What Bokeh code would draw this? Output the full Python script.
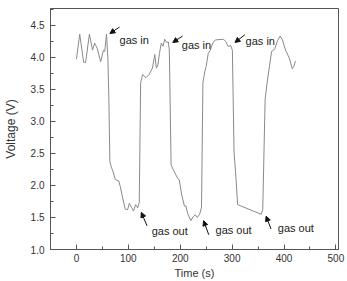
from bokeh.plotting import figure
from bokeh.models import (FixedTicker, Label, Arrow, NormalHead, Range1d,
                          PrintfTickFormatter)
from bokeh.embed import file_html
from bokeh.resources import INLINE

time_s = [0, 6.3, 13.9, 17.7, 25, 31, 35, 40, 46.7, 52, 54.5, 58, 60.6, 62.5, 64.4,
          67, 70.7, 75, 81.4, 84.6, 87.8, 94, 98.5, 102, 106.7, 110, 114, 118, 121,
          123.7, 127.5, 134, 140, 146.5, 151, 154, 157, 160, 163.5, 166.7, 170, 174,
          177, 179, 182.4, 187, 195, 198, 203, 208, 211, 214, 220.5, 225, 229, 233,
          237.5, 241, 243.7, 247.5, 250, 254, 258, 262.6, 267.7, 283.5, 288, 293,
          296.7, 300.5, 303.7, 307.5, 310.6, 356, 359, 363.6, 367.4, 372, 376, 380,
          382.6, 387.6, 392.7, 397, 403, 410, 416, 419, 422]
voltage = [3.97, 4.36, 3.92, 3.92, 4.36, 4.11, 4.22, 4.14, 3.93, 4.11, 4.09, 4.36, 3.97,
           3.34, 2.37, 2.29, 2.21, 2.09, 2.07, 1.98, 1.85, 1.63, 1.62, 1.72, 1.65, 1.60,
           1.70, 1.65, 1.73, 3.60, 3.73, 3.68, 3.73, 3.83, 4.04, 3.83, 3.88, 4.06, 4.22,
           4.17, 4.28, 4.23, 4.24, 4.11, 2.32, 2.24, 2.11, 2.09, 1.85, 1.68, 1.68, 1.57,
           1.45, 1.51, 1.54, 1.50, 1.55, 1.66, 3.60, 3.78, 3.86, 4.06, 4.11, 4.22, 4.27,
           4.28, 4.24, 4.16, 4.19, 4.11, 2.52, 2.11, 1.70, 1.55, 1.62, 3.34, 3.60, 3.86,
           4.09, 4.11, 4.14, 4.26, 4.33, 4.27, 4.11, 3.99, 3.82, 3.86, 3.94]

x_ticks = [0, 100, 200, 300, 400, 500]
y_ticks = [1.0, 1.5, 2.0, 2.5, 3.0, 3.5, 4.0, 4.5]

note_texts = ["gas in", "gas in", "gas in", "gas out", "gas out", "gas out"]
note_x = [83, 203, 326, 145, 268, 388]
note_y = [4.27, 4.19, 4.26, 1.29, 1.30, 1.33]
arrow_x0 = [83, 204.5, 324.5, 136, 255, 375]
arrow_y0 = [4.47, 4.33, 4.35, 1.37, 1.23, 1.32]
arrow_x1 = [64.4, 185.6, 305.5, 125, 245, 365.5]
arrow_y1 = [4.37, 4.23, 4.23, 1.58, 1.45, 1.52]

FONT = "Liberation Sans"

p = figure(width=347, height=281, output_backend="svg", toolbar_location=None,
           x_range=Range1d(-50, 505), y_range=Range1d(1.0, 4.76),
           min_border_left=46, min_border_right=9, min_border_top=8,
           min_border_bottom=29)
p.background_fill_color = "white"
p.border_fill_color = "white"
p.outline_line_color = "#555555"
p.outline_line_width = 1
p.xgrid.visible = False
p.ygrid.visible = False

p.line(time_s, voltage, line_color="#8a8a8a", line_width=1)

p.xaxis.ticker = FixedTicker(ticks=x_ticks, minor_ticks=[-50, 50, 150, 250, 350, 450])
p.yaxis.ticker = FixedTicker(ticks=y_ticks,
                             minor_ticks=[1.25, 1.75, 2.25, 2.75, 3.25, 3.75, 4.25, 4.75])
p.yaxis.formatter = PrintfTickFormatter(format="%.1f")
for ax in (p.xaxis, p.yaxis):
    ax.axis_line_color = "#555555"
    ax.major_tick_line_color = "#555555"
    ax.minor_tick_line_color = "#555555"
    ax.major_tick_in = 5
    ax.major_tick_out = 0
    ax.minor_tick_in = 3
    ax.minor_tick_out = 0
    ax.major_label_text_font = FONT
    ax.major_label_text_font_size = "10px"
    ax.major_label_text_color = "#333333"
    ax.axis_label_text_font = FONT
    ax.axis_label_text_font_style = "normal"
    ax.axis_label_text_color = "#333333"
p.xaxis.major_label_standoff = 4
p.yaxis.major_label_standoff = 6
p.yaxis.axis_label = "Voltage (V)"
p.yaxis.axis_label_text_font_size = "12px"
p.yaxis.axis_label_standoff = 10
p.xaxis.axis_label = "Time (s)"
p.xaxis.axis_label_text_font_size = "11px"
p.xaxis.axis_label_standoff = 2

for t, x, y in zip(note_texts, note_x, note_y):
    p.add_layout(Label(x=x, y=y, text=t, text_font=FONT, text_font_size="11px",
                       text_color="#222222", text_align="left",
                       text_baseline="middle"))
for xs, ys, xe, ye in zip(arrow_x0, arrow_y0, arrow_x1, arrow_y1):
    p.add_layout(Arrow(x_start=xs, y_start=ys, x_end=xe, y_end=ye,
                       line_color="#111111", line_width=1,
                       end=NormalHead(size=5, fill_color="#111111",
                                      line_color="#111111")))

open("out.html", "w").write(file_html(p, INLINE))
